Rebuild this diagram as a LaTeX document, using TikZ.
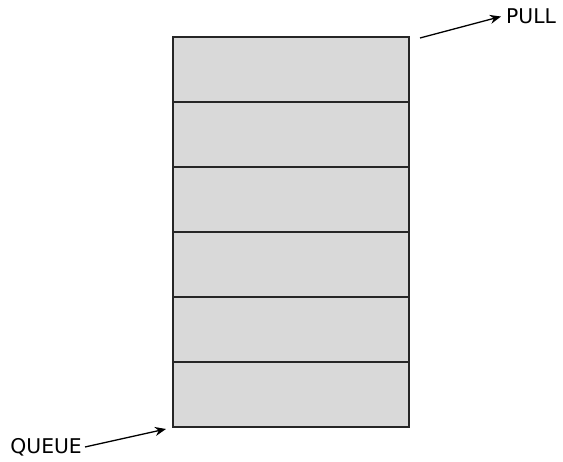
\documentclass[tikz,border=0pt]{standalone}
\usepackage{fontspec}
\setmainfont{DejaVu Sans}
\usetikzlibrary{arrows.meta}
\begin{document}
\begin{tikzpicture}[x=1pt,y=-1pt,
  cell/.style={draw=black!85,line width=1.3pt,fill=black!15,minimum width=236pt,minimum height=65pt,inner sep=0pt,outer sep=0pt},
  lbl/.style={font=\fontsize{20.3}{24}\selectfont,inner sep=0pt},
  arr/.style={-{Stealth[length=11pt,width=9pt]},line width=1.3pt}]
\useasboundingbox (0,0) rectangle (563,462);
\node[cell] (c1) at (291,69.5) {};
\node[cell] (c2) at (291,134.5) {};
\node[cell] (c3) at (291,199.5) {};
\node[cell] (c4) at (291,264.5) {};
\node[cell] (c5) at (291,329.5) {};
\node[cell] (c6) at (291,394.5) {};
\node[lbl,anchor=west] (pull) at (506,16.5) {PULL};
\node[lbl,anchor=east] (queue) at (82,447) {QUEUE};
\coordinate (ps) at (420,38);
\coordinate (qe) at (166,429);
\draw[arr] (ps) -- ([xshift=-5pt]pull.west);
\draw[arr] ([xshift=3pt]queue.east) -- (qe);
\end{tikzpicture}
\end{document}
